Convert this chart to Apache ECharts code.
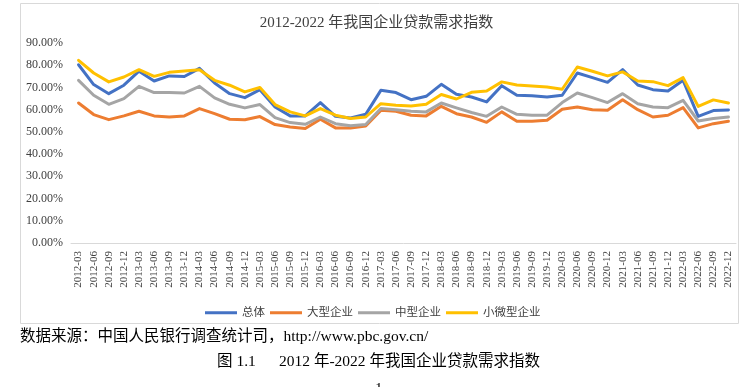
<!DOCTYPE html>
<html><head><meta charset="utf-8">
<script src="https://cdn.jsdelivr.net/npm/echarts@6/dist/echarts.min.js"></script>
<style>html,body{margin:0;padding:0;background:#fff;}#c{width:753px;height:387px;}</style>
</head><body><div id="c"></div>
<script>
const categories = [];
const years = ['2012','2013','2014','2015','2016','2017','2018','2019','2020','2021','2022'];
const quarters = ['03','06','09','12'];
years.forEach(y => quarters.forEach(q => categories.push(y + '-' + q)));

const total = [80.2,71.3,67.2,71.0,77.3,72.9,75.2,74.9,78.6,72.0,67.2,65.4,69.0,61.2,57.2,57.2,63.2,57.0,56.3,57.9,
  68.7,67.7,64.5,66.0,71.4,66.9,65.7,63.5,70.8,66.5,66.3,65.7,66.5,76.5,74.4,72.3,78.0,71.1,69.0,68.4,73.2,57.0,59.6,59.9];
const large = [63.0,57.8,55.5,57.2,59.3,57.2,56.7,57.2,60.5,58.2,55.7,55.5,56.9,53.3,52.2,51.5,55.7,51.8,51.8,52.7,
  59.7,59.3,57.5,57.2,61.5,58.2,56.7,54.3,59.0,54.8,54.8,55.2,60.2,61.2,60.0,59.7,64.5,60.0,56.7,57.5,60.9,51.8,53.7,54.8];
const medium = [73.2,66.5,62.4,65.0,70.5,67.7,67.7,67.5,70.5,65.3,62.4,60.8,62.3,56.4,54.2,53.4,56.7,53.7,52.8,53.3,
  60.5,60.0,59.3,59.0,63.0,60.8,58.7,57.0,61.2,57.9,57.5,57.5,63.2,67.5,65.4,63.2,67.2,62.7,61.2,60.9,64.2,54.9,56.0,56.7];
const small = [82.2,76.5,72.5,74.7,78.0,75.0,76.8,77.4,78.0,73.2,71.0,68.0,70.0,62.3,59.0,57.2,60.5,57.5,56.0,56.7,
  62.7,62.0,61.7,62.4,66.8,64.8,67.8,68.4,72.5,71.1,70.7,70.2,69.2,79.2,77.3,75.2,77.0,72.9,72.6,70.8,74.4,61.5,64.4,63.0];
const seriesNames = ['总体','大型企业','中型企业','小微型企业'];
const colors = ['#4472C4','#ED7D31','#A5A5A5','#FFC000'];

const serif = '"Liberation Serif","Noto Sans CJK SC",serif';
const chart = echarts.init(document.getElementById('c'));
const mk = (name, data, color) => ({
  name, type: 'line', data, showSymbol: false, symbol: 'none',
  lineStyle: { width: 3, color, cap: 'round', join: 'round' }, itemStyle: { color },
  animation: false
});
chart.setOption({
  animation: false,
  title: {
    text: '2012-2022 年我国企业贷款需求指数', left: 'center', top: 11,
    textStyle: { fontFamily: serif, fontSize: 15, fontWeight: 'normal', color: '#404040' }
  },
  grid: { left: 71, right: 17, top: 43, bottom: 144, containLabel: false },
  legend: {
    data: seriesNames, left: 200, top: 302, icon: 'rect', itemWidth: 32, itemHeight: 3, itemGap: 5,
    textStyle: { fontFamily: serif, fontSize: 11.5, color: '#404040' }
  },
  xAxis: {
    type: 'category', data: categories, boundaryGap: true,
    axisLine: { lineStyle: { color: '#d9d9d9' } }, axisTick: { show: false },
    axisLabel: { rotate: 90, interval: 0, fontFamily: serif, fontSize: 11, color: '#404040', margin: 8 }
  },
  yAxis: {
    type: 'value', min: 0, max: 90, interval: 10,
    splitLine: { show: false }, axisLine: { show: false }, axisTick: { show: false },
    axisLabel: { formatter: v => v.toFixed(2) + '%', fontFamily: serif, fontSize: 12, color: '#404040', margin: 8 }
  },
  series: [mk(seriesNames[0], total, colors[0]), mk(seriesNames[1], large, colors[1]),
           mk(seriesNames[2], medium, colors[2]), mk(seriesNames[3], small, colors[3])],
  graphic: [
    { type: 'rect', shape: { x: 20.5, y: 3.5, width: 718, height: 320 }, style: { fill: 'none', stroke: '#d9d9d9', lineWidth: 1 }, z: -1 },
    { type: 'text', left: 20, top: 329, style: { text: '数据来源：中国人民银行调查统计司，http://www.pbc.gov.cn/', font: '15.5px ' + serif, fill: '#000' } },
    { type: 'text', left: 217, top: 354, style: { text: '图 1.1      2012 年-2022 年我国企业贷款需求指数', font: '15.5px ' + serif, fill: '#000' } },
    { type: 'text', left: 375, top: 382, style: { text: '1', font: '15px ' + serif, fill: '#000' } }
  ]
});
</script></body></html>
